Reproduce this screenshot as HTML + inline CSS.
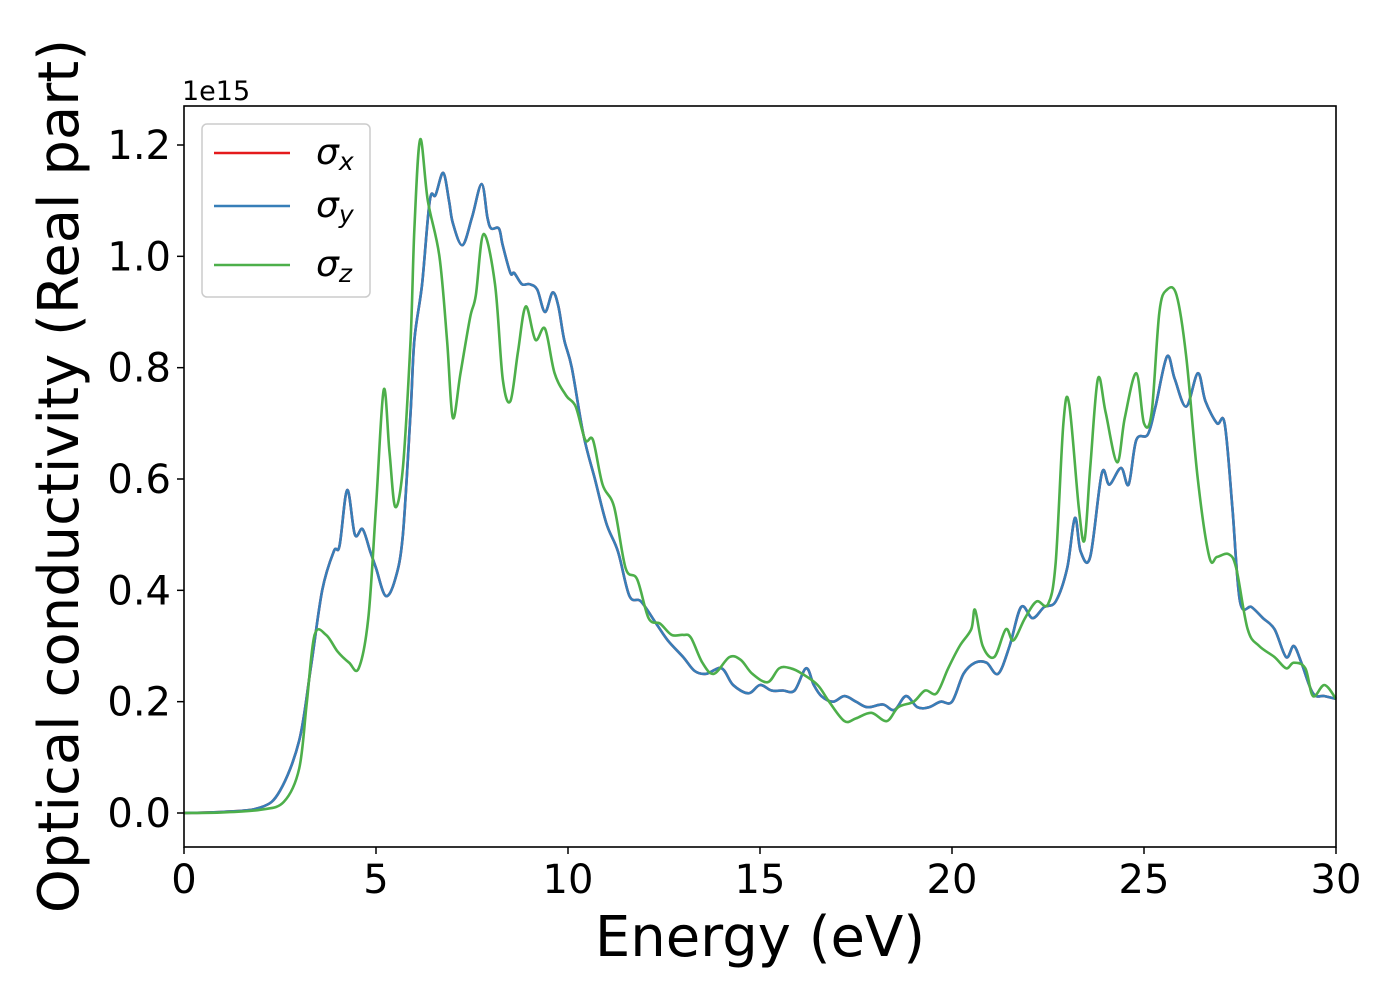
<!DOCTYPE html>
<html><head><meta charset="utf-8"><style>
html,body{margin:0;padding:0;background:#fff;width:1400px;height:1000px;overflow:hidden}
svg text{font-family:"DejaVu Sans","Liberation Sans",sans-serif;fill:#000}
</style></head><body>
<svg id="chart" width="1400" height="1000" xmlns="http://www.w3.org/2000/svg">
<rect width="1400" height="1000" fill="#fff"/>
<g id="plot"></g>
<rect x="184" y="106" width="1152" height="741" fill="none" stroke="#000" stroke-width="1.6"/>
<g id="ticks"></g>
<text x="182" y="100" font-size="27">1e15</text>
<text x="760" y="956" font-size="56" text-anchor="middle">Energy (eV)</text>
<text transform="translate(78,476) rotate(-90)" font-size="56" text-anchor="middle">Optical conductivity (Real part)</text>
<g>
<rect x="202" y="124" width="168" height="173" rx="5" fill="#fff" fill-opacity="0.8" stroke="#ccc" stroke-width="1.5"/>
<line x1="214" y1="153" x2="290" y2="153" stroke="#e41a1c" stroke-width="2.5"/>
<text x="316" y="164" font-size="36" font-style="italic">σ<tspan font-size="25" dy="6">x</tspan></text>
<line x1="214" y1="206" x2="290" y2="206" stroke="#377eb8" stroke-width="2.5"/>
<text x="316" y="217" font-size="36" font-style="italic">σ<tspan font-size="25" dy="6">y</tspan></text>
<line x1="214" y1="265" x2="290" y2="265" stroke="#4daf4a" stroke-width="2.5"/>
<text x="316" y="276" font-size="36" font-style="italic">σ<tspan font-size="25" dy="6">z</tspan></text>
</g>
</svg>
<script>
const xTicks=[0,5,10,15,20,25,30];
const yTicks=[0.0,0.2,0.4,0.6,0.8,1.0,1.2];
const energyY=[0,1,2,2.5,3.0,3.3,3.6,3.9,4.05,4.25,4.45,4.65,4.85,5.0,5.25,5.5,5.7,5.9,6.0,6.2,6.4,6.55,6.75,6.9,7.0,7.25,7.5,7.75,7.9,8.0,8.2,8.3,8.5,8.6,8.8,9.0,9.2,9.4,9.6,9.75,9.9,10.1,10.4,10.7,11.0,11.3,11.6,11.9,12.3,12.6,13.0,13.3,13.6,14.0,14.3,14.7,15.0,15.3,15.6,15.9,16.2,16.4,16.6,16.9,17.2,17.5,17.8,18.2,18.5,18.8,19.1,19.4,19.7,20.0,20.3,20.6,20.9,21.2,21.5,21.8,22.1,22.4,22.7,23.0,23.2,23.35,23.6,23.9,24.1,24.4,24.6,24.8,25.1,25.3,25.6,25.8,26.1,26.4,26.6,26.9,27.1,27.3,27.5,27.8,28.1,28.4,28.7,28.9,29.1,29.4,29.7,30];
const sigmaY=[0,0.002,0.01,0.04,0.13,0.26,0.40,0.47,0.48,0.58,0.50,0.51,0.47,0.44,0.39,0.42,0.5,0.72,0.85,0.95,1.10,1.11,1.15,1.10,1.06,1.02,1.07,1.13,1.07,1.05,1.05,1.02,0.97,0.97,0.95,0.95,0.94,0.90,0.935,0.91,0.85,0.80,0.68,0.60,0.52,0.47,0.39,0.38,0.34,0.31,0.28,0.255,0.25,0.26,0.23,0.215,0.23,0.22,0.22,0.22,0.26,0.23,0.21,0.2,0.21,0.20,0.19,0.195,0.185,0.21,0.19,0.19,0.2,0.2,0.25,0.27,0.27,0.25,0.3,0.37,0.35,0.37,0.38,0.44,0.53,0.47,0.46,0.61,0.59,0.62,0.59,0.67,0.68,0.73,0.82,0.78,0.73,0.79,0.74,0.70,0.70,0.55,0.38,0.37,0.35,0.33,0.28,0.3,0.27,0.215,0.21,0.205];
const sigmaX=sigmaY.slice();
const energyZ=[0,1,2,2.6,3.0,3.2,3.4,3.7,4.0,4.3,4.55,4.8,5.0,5.2,5.35,5.5,5.7,5.9,6.0,6.15,6.35,6.65,6.85,7.0,7.2,7.45,7.6,7.8,8.1,8.3,8.5,8.7,8.9,9.15,9.4,9.65,9.95,10.2,10.45,10.65,10.9,11.2,11.5,11.8,12.1,12.4,12.7,13.0,13.2,13.5,13.8,14.2,14.5,14.8,15.2,15.5,15.8,16.1,16.5,16.8,17.2,17.5,17.9,18.3,18.6,19.0,19.3,19.6,19.9,20.2,20.5,20.6,20.8,21.1,21.4,21.6,21.9,22.2,22.5,22.7,22.9,23.05,23.3,23.45,23.6,23.8,24.0,24.3,24.5,24.8,25.0,25.2,25.4,25.6,25.85,26.1,26.4,26.7,26.9,27.2,27.4,27.7,28.0,28.4,28.7,28.9,29.2,29.4,29.7,30];
const sigmaZ=[0,0.001,0.006,0.02,0.08,0.2,0.32,0.32,0.29,0.27,0.26,0.35,0.55,0.76,0.65,0.55,0.62,0.85,1.05,1.21,1.10,1.00,0.85,0.71,0.79,0.89,0.93,1.04,0.95,0.78,0.74,0.83,0.91,0.85,0.87,0.79,0.75,0.73,0.67,0.67,0.59,0.55,0.44,0.42,0.35,0.34,0.32,0.32,0.315,0.27,0.25,0.28,0.275,0.25,0.235,0.26,0.26,0.25,0.23,0.2,0.165,0.17,0.18,0.165,0.19,0.2,0.22,0.215,0.26,0.3,0.33,0.365,0.3,0.28,0.33,0.31,0.35,0.38,0.375,0.45,0.70,0.735,0.55,0.49,0.62,0.78,0.72,0.63,0.71,0.79,0.70,0.72,0.90,0.94,0.93,0.82,0.60,0.46,0.46,0.465,0.44,0.33,0.30,0.28,0.26,0.27,0.26,0.21,0.23,0.205];

const NS="http://www.w3.org/2000/svg";
const X0=184,X1=1336,Y0=813,Y12=145;
const xs=v=>X0+(v-0)/(30-0)*(X1-X0);
const ys=v=>Y0-v/1.2*(Y0-Y12);
function pathFor(ex,vals){
  const p=ex.map((e,i)=>[xs(e),ys(vals[i])]);
  let d="M"+p[0][0].toFixed(1)+","+p[0][1].toFixed(1);
  for(let i=0;i<p.length-1;i++){
    const a=p[Math.max(i-1,0)],b=p[i],c=p[i+1],e=p[Math.min(i+2,p.length-1)];
    const c1=[b[0]+(c[0]-a[0])/6,b[1]+(c[1]-a[1])/6];
    const c2=[c[0]-(e[0]-b[0])/6,c[1]-(e[1]-b[1])/6];
    d+=`C${c1[0].toFixed(1)},${c1[1].toFixed(1)} ${c2[0].toFixed(1)},${c2[1].toFixed(1)} ${c[0].toFixed(1)},${c[1].toFixed(1)}`;
  }
  return d;
}
const plot=document.getElementById('plot');
[[energyY,sigmaX,'#e41a1c','series-sigma-x'],[energyY,sigmaY,'#377eb8','series-sigma-y'],[energyZ,sigmaZ,'#4daf4a','series-sigma-z']].forEach(s=>{
  const el=document.createElementNS(NS,'path');
  el.setAttribute('d',pathFor(s[0],s[1]));
  el.setAttribute('fill','none');el.setAttribute('stroke',s[2]);el.setAttribute('stroke-width','2.6');
  
  
  plot.appendChild(el);
});
const tk=document.getElementById('ticks');
xTicks.forEach(t=>{
  const l=document.createElementNS(NS,'line');
  l.setAttribute('x1',xs(t));l.setAttribute('x2',xs(t));l.setAttribute('y1',847);l.setAttribute('y2',854);l.setAttribute('stroke','#000');l.setAttribute('stroke-width','1.5');
  
  
  tk.appendChild(l);
  const tx=document.createElementNS(NS,'text');
  tx.setAttribute('x',xs(t));tx.setAttribute('y',893);tx.setAttribute('font-size','40');tx.setAttribute('text-anchor','middle');
  tx.textContent=String(t);
  
  
  tk.appendChild(tx);
});
yTicks.forEach(t=>{
  const l=document.createElementNS(NS,'line');
  l.setAttribute('x1',177);l.setAttribute('x2',184);l.setAttribute('y1',ys(t));l.setAttribute('y2',ys(t));l.setAttribute('stroke','#000');l.setAttribute('stroke-width','1.5');
  
  
  tk.appendChild(l);
  const tx=document.createElementNS(NS,'text');
  tx.setAttribute('x',171);tx.setAttribute('y',ys(t)+14);tx.setAttribute('font-size','40');tx.setAttribute('text-anchor','end');
  tx.textContent=t.toFixed(1);
  
  
  tk.appendChild(tx);
});
</script>
</body></html>
